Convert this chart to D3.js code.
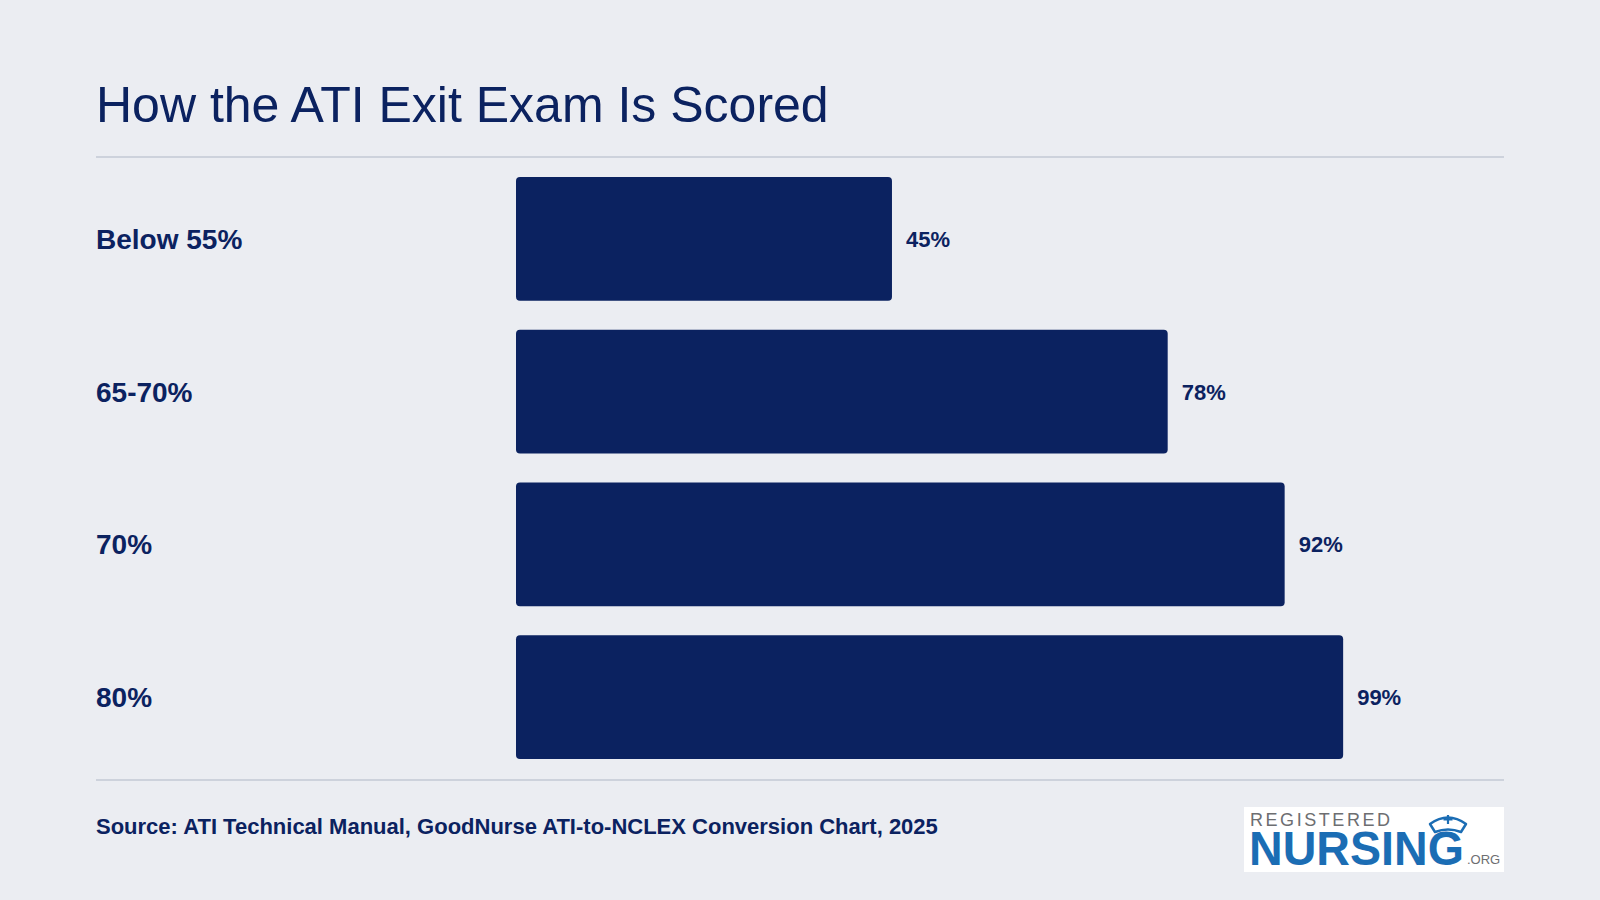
<!DOCTYPE html>
<html>
<head>
<meta charset="utf-8">
<title>How the ATI Exit Exam Is Scored</title>
<script src="https://cdn.jsdelivr.net/npm/d3@7/dist/d3.min.js"></script>
<style>
  html, body {
    margin: 0;
    padding: 0;
    background: #ebedf2;
  }
  svg {
    display: block;
    font-family: 'Liberation Sans', Arial, Helvetica, sans-serif;
  }
</style>
</head>
<body>
<svg id="chart" width="1600" height="900"></svg>
<script>
(function() {
  'use strict';

  // Data
  var categories = ['Below 55%', '65-70%', '70%', '80%'];
  var passRates = [45, 78, 92, 99];
  var valueLabels = ['45%', '78%', '92%', '99%'];

  var titleText = 'How the ATI Exit Exam Is Scored';
  var sourceText = 'Source: ATI Technical Manual, GoodNurse ATI-to-NCLEX Conversion Chart, 2025';

  var colors = {
    background: '#ebedf2',
    navy: '#0b2260',
    rule: '#c3c8d5',
    logoBlue: '#1b6db4',
    logoGray: '#6d6e71'
  };

  var layout = {
    left: 96,
    right: 1504,
    barLeft: 516,
    barFull: 1351.5,
    plotTop: 177,
    plotBottom: 759
  };

  var svg = d3.select('#chart');

  svg.append('rect')
    .attr('width', 1600)
    .attr('height', 900)
    .attr('fill', colors.background);

  // Title + rules
  svg.append('text')
    .attr('x', layout.left)
    .attr('y', 122)
    .attr('fill', colors.navy)
    .style('font-size', '50px')
    .text(titleText);

  [157, 780].forEach(function(y) {
    svg.append('line')
      .attr('x1', layout.left)
      .attr('x2', layout.right)
      .attr('y1', y)
      .attr('y2', y)
      .attr('stroke', colors.rule)
      .attr('stroke-width', 1.5);
  });

  var x = d3.scaleLinear()
    .domain([0, 100])
    .range([layout.barLeft, layout.barFull]);

  var y = d3.scaleBand()
    .domain(categories)
    .range([layout.plotTop, layout.plotBottom])
    .paddingInner(0.19)
    .paddingOuter(0);

  var rows = categories.map(function(c, i) {
    return { category: c, value: passRates[i], label: valueLabels[i] };
  });

  var row = svg.append('g')
    .attr('class', 'rows')
    .selectAll('g')
    .data(rows)
    .enter()
    .append('g');

  row.append('rect')
    .attr('x', x(0))
    .attr('y', function(d) { return y(d.category); })
    .attr('width', function(d) { return x(d.value) - x(0); })
    .attr('height', y.bandwidth())
    .attr('rx', 4)
    .attr('fill', colors.navy);

  row.append('text')
    .attr('x', layout.left)
    .attr('y', function(d) { return y(d.category) + y.bandwidth() / 2; })
    .attr('dy', '0.36em')
    .attr('fill', colors.navy)
    .style('font-size', '28px')
    .style('font-weight', 'bold')
    .text(function(d) { return d.category; });

  row.append('text')
    .attr('x', function(d) { return x(d.value) + 14; })
    .attr('y', function(d) { return y(d.category) + y.bandwidth() / 2; })
    .attr('dy', '0.36em')
    .attr('fill', colors.navy)
    .style('font-size', '22px')
    .style('font-weight', 'bold')
    .text(function(d) { return d.label; });

  // Footer
  svg.append('text')
    .attr('x', layout.left)
    .attr('y', 834)
    .attr('fill', colors.navy)
    .style('font-size', '22px')
    .style('font-weight', 'bold')
    .text(sourceText);

  /**
   * RegisteredNursing.org wordmark, drawn in a white box bottom right.
   */
  var logo = svg.append('g').attr('class', 'logo');

  logo.append('rect')
    .attr('x', 1244)
    .attr('y', 807)
    .attr('width', 260)
    .attr('height', 65)
    .attr('fill', '#ffffff');

  logo.append('text')
    .attr('x', 1250)
    .attr('y', 826)
    .attr('fill', colors.logoGray)
    .attr('textLength', 140)
    .attr('lengthAdjust', 'spacing')
    .style('font-size', '18px')
    .text('REGISTERED');

  logo.append('text')
    .attr('x', 1249)
    .attr('y', 865)
    .attr('fill', colors.logoBlue)
    .attr('textLength', 215)
    .attr('lengthAdjust', 'spacingAndGlyphs')
    .style('font-size', '49px')
    .style('font-weight', 'bold')
    .text('NURSING');

  logo.append('text')
    .attr('x', 1467)
    .attr('y', 864)
    .attr('fill', colors.logoGray)
    .style('font-size', '13px')
    .text('.ORG');

  // nurse cap above the G
  var cap = logo.append('g')
    .attr('fill', 'none')
    .attr('stroke', colors.logoBlue)
    .attr('stroke-width', 2.5)
    .attr('stroke-linejoin', 'round');

  cap.append('path')
    .attr('d', 'M1430,824 Q1448,811 1466,824 L1461,832 Q1448,827 1435,832 Z');

  cap.append('path')
    .attr('stroke-width', 2.2)
    .attr('d', 'M1448,815 V824 M1443.5,819.5 H1452.5');
})();
</script>
</body>
</html>
